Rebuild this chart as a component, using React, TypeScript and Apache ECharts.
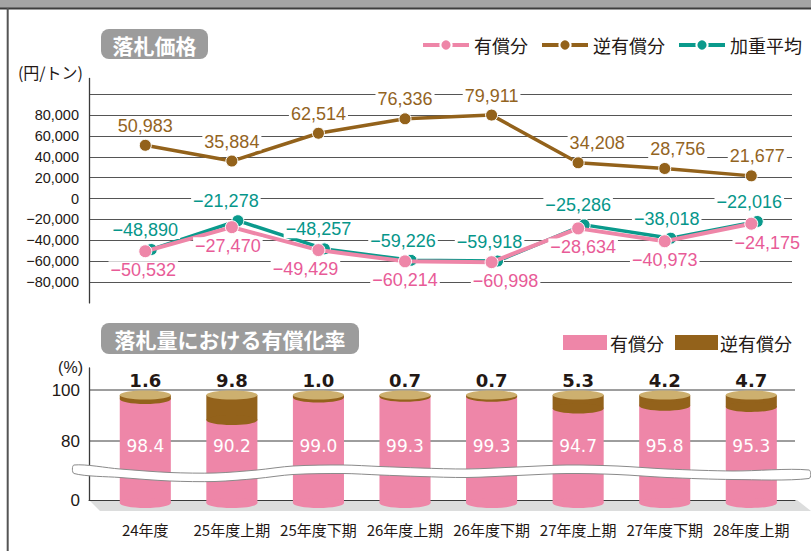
import React, { useEffect, useRef } from 'react';
import * as echarts from 'echarts';

// ---------- data ----------
const categories = ['24年度', '25年度上期', '25年度下期', '26年度上期', '26年度下期', '27年度上期', '27年度下期', '28年度上期'];
const paidPrice = [-50532, -27470, -49429, -60214, -60998, -28634, -40973, -24175]; // 有償分
const reversePrice = [50983, 35884, 62514, 76336, 79911, 34208, 28756, 21677]; // 逆有償分
const weightedAvgPrice = [-48890, -21278, -48257, -59226, -59918, -25286, -38018, -22016]; // 加重平均
const paidRate = [98.4, 90.2, 99.0, 99.3, 99.3, 94.7, 95.8, 95.3]; // 有償分 (%)
const reverseRate = [1.6, 9.8, 1.0, 0.7, 0.7, 5.3, 4.2, 4.7]; // 逆有償分 (%)
const rateTicks = [0, 80, 100];
const rateGridValues = [80, 100];

// ---------- styling ----------
const PINK = '#ee86a8';
const PINK_LABEL = '#e85b97';
const BROWN = '#93621b';
const BROWN_LABEL = '#93641f';
const TEAL = '#0a9a8c';
const TEAL_LABEL = '#06968a';
const TAN = '#cdb06f';
const INK = '#231815';
const CJK = "'Noto Sans CJK JP', 'Noto Sans', sans-serif";
const NUM = "'Liberation Sans', Arial, sans-serif";

// label nudges (pixels, horizontal)
const brownLabelShift = [0, 0, 0, 0, 0, 19, 13, 6];
const pinkLabelShift = [-2, -4, -13, 0, 14, 5, 0, 16];
const tealLabelShift = [-6, -12, -6, -8, -8, -6, -4, -8];

// layout
const X_LEFT = 89;
const X_FIRST = 145.3;
const X_STEP = 86.57;
const X_MIN = -(X_FIRST - X_LEFT) / X_STEP;
const TOP_W = 703;
const BOT_W = 706;
const TEAL_SHIFT = 6 / X_STEP;

const ZERO_Y = 198.5;
const K = 20.875 / 20000;
const P_MIN = -100000;
const P_MAX = 115000;
const TOP_TOP = ZERO_Y - P_MAX * K;
const TOP_H = (P_MAX - P_MIN) * K;

const B_TOP = 368;
const B_BOT = 500;
const R_PX = 51 / 20;
const R_MAX = 100 + (390 - B_TOP) / R_PX;
const R_MIN = 80 - (B_BOT - 441) / R_PX;
const rateToY = (v: number) => B_BOT - (v - R_MIN) * R_PX;

const fmt = (v: number) => (v < 0 ? '−' : '') + Math.abs(v).toLocaleString('en-US');

const renderCylinder = (params: any, api: any) => {
  const i = api.value(0);
  const paid = api.value(1);
  const rev = api.value(2);
  const total = paid + rev;
  const top = api.coord([i, total]);
  const cx = top[0];
  const yTop = top[1];
  const yMid = api.coord([i, paid])[1];
  const yBase = api.coord([i, R_MIN])[1];
  const w = api.size([0.59, 0])[0];
  const rx = w / 2;
  const ry = 5;
  const yIn = api.coord([i, 78])[1];
  return {
    type: 'group',
    children: [
      { type: 'rect', shape: { x: cx - rx, y: yMid + ry, width: w, height: yBase + 3 - (yMid + ry) }, style: { fill: PINK } },
      { type: 'ellipse', shape: { cx, cy: yBase + 3, rx, ry }, style: { fill: PINK } },
      { type: 'rect', shape: { x: cx - rx, y: yTop + ry, width: w, height: yMid - yTop }, style: { fill: BROWN } },
      { type: 'ellipse', shape: { cx, cy: yMid + ry, rx, ry }, style: { fill: BROWN } },
      { type: 'ellipse', shape: { cx, cy: yTop + ry, rx, ry: ry - 0.5 }, style: { fill: TAN } },
      {
        type: 'text', x: cx, y: yTop - 10,
        style: { text: rev.toFixed(1), fill: INK, fontSize: 18, fontWeight: 'bold', fontFamily: "'DejaVu Sans', sans-serif", align: 'center', verticalAlign: 'middle' },
      },
      {
        type: 'text', x: cx, y: yIn,
        style: { text: paid.toFixed(1), fill: '#fff', fontSize: 17, fontFamily: "'DejaVu Sans', sans-serif", align: 'center', verticalAlign: 'middle' },
      },
    ],
  };
};

const wavePts: number[][] = [
  [74, 465], [120, 469], [170, 472.5], [215, 473], [257, 470], [293, 466], [343, 465], [380, 466.5],
  [420, 468], [467, 469], [517, 467], [567, 465], [617, 466], [667, 469], [733, 471], [809, 470],
];

export default function App() {
  const ref = useRef<HTMLDivElement>(null);
  useEffect(() => {
    if (!ref.current) return;
    const chart = echarts.init(ref.current, undefined, { renderer: 'svg' });
    const bandPoly = [
      ...wavePts.map((p) => [p[0], p[1]]),
      ...wavePts.slice().reverse().map((p) => [p[0], p[1] + 8.5]),
    ];
    const lineLabel = (color: string, position: string, distance: number) => ({
      show: true,
      position,
      distance,
      color,
      fontSize: 18,
      fontFamily: NUM,
      backgroundColor: '#fff',
      padding: [0, 2],
      formatter: (p: any) => fmt(p.value[1]),
    });
    const option: any = {
      animation: false,
      textStyle: { fontFamily: CJK },
      legend: {
        left: 421,
        top: 36,
        padding: 0,
        itemWidth: 46,
        itemHeight: 14,
        itemGap: 12,
        selectedMode: false,
        lineStyle: { width: 4 },
        textStyle: { fontSize: 18, color: INK, fontFamily: CJK },
        data: ['有償分', '逆有償分', '加重平均'],
      },
      grid: [
        { left: X_LEFT, top: TOP_TOP, width: TOP_W, height: TOP_H },
        { left: X_LEFT, top: B_TOP, width: BOT_W, height: B_BOT - B_TOP },
      ],
      xAxis: [
        { type: 'value', gridIndex: 0, min: X_MIN, max: X_MIN + TOP_W / X_STEP, show: false },
        { type: 'value', gridIndex: 0, min: X_MIN - TEAL_SHIFT, max: X_MIN - TEAL_SHIFT + TOP_W / X_STEP, show: false },
        {
          type: 'value', gridIndex: 1, min: X_MIN, max: X_MIN + BOT_W / X_STEP,
          axisLine: { show: true, onZero: false, lineStyle: { color: '#3a3a3a', width: 1 } },
          axisTick: { show: false },
          splitLine: { show: false },
          axisLabel: {
            customValues: categories.map((_, i) => i),
            formatter: (v: number) => categories[Math.round(v)] ?? '',
            margin: 22,
            fontSize: 15,
            color: INK,
            fontFamily: CJK,
          },
        },
      ],
      yAxis: [
        {
          type: 'value', gridIndex: 0, min: P_MIN, max: P_MAX, interval: 20000,
          axisLine: { show: true, onZero: false, lineStyle: { color: '#3a3a3a', width: 1.3 } },
          axisTick: { show: false },
          splitLine: { show: true, showMinLine: false, showMaxLine: false, lineStyle: { color: '#555', width: 1 } },
          axisLabel: {
            margin: 10,
            fontSize: 14.5,
            color: INK,
            fontFamily: NUM,
            formatter: (v: number) => (v > 90000 || v < -90000 ? '' : fmt(v)),
          },
        },
        {
          type: 'value', gridIndex: 1, min: R_MIN, max: R_MAX,
          axisLine: { show: true, onZero: false, lineStyle: { color: '#3a3a3a', width: 1.3 } },
          axisTick: { show: false },
          splitLine: { show: false },
          axisLabel: {
            customValues: rateTicks.map((t) => (t === 0 ? R_MIN : t)),
            formatter: (v: number) => (v < R_MIN + 1 ? '0' : String(Math.round(v))),
            margin: 9,
            fontSize: 17,
            color: INK,
            fontFamily: NUM,
          },
        },
      ],
      series: [
        {
          name: '逆有償分', type: 'line', xAxisIndex: 0, yAxisIndex: 0, z: 3,
          data: reversePrice.map((v, i) => ({ value: [i, v], label: { offset: [brownLabelShift[i], 0] } })),
          symbol: 'circle', symbolSize: 12,
          lineStyle: { color: BROWN, width: 3.5 },
          itemStyle: { color: BROWN, borderColor: '#fff', borderWidth: 1 },
          label: lineLabel(BROWN_LABEL, 'top', 4),
        },
        {
          name: '加重平均', type: 'line', xAxisIndex: 1, yAxisIndex: 0, z: 3,
          data: weightedAvgPrice.map((v, i) => ({ value: [i, v], label: { offset: [tealLabelShift[i], 0] } })),
          symbol: 'circle', symbolSize: 12,
          lineStyle: { color: TEAL, width: 3.5 },
          itemStyle: { color: TEAL, borderColor: '#fff', borderWidth: 1 },
          label: lineLabel(TEAL_LABEL, 'top', 4),
        },
        {
          name: '有償分', type: 'line', xAxisIndex: 0, yAxisIndex: 0, z: 4,
          data: paidPrice.map((v, i) => ({ value: [i, v], label: { offset: [pinkLabelShift[i], 0] } })),
          symbol: 'circle', symbolSize: 13,
          lineStyle: { color: PINK, width: 4 },
          itemStyle: { color: PINK, borderColor: '#fff', borderWidth: 1 },
          label: lineLabel(PINK_LABEL, 'bottom', 3),
        },
        {
          name: '有償化率', type: 'custom', xAxisIndex: 2, yAxisIndex: 1, z: 3,
          renderItem: renderCylinder,
          encode: { x: 0, y: 1 },
          data: paidRate.map((p, i) => [i, p, reverseRate[i]]),
        },
      ],
      graphic: [
        { type: 'rect', shape: { x: 0, y: 0, width: 811, height: 8 }, style: { fill: '#a4a4a4' } },
        { type: 'line', shape: { x1: 0, y1: 8.5, x2: 811, y2: 8.5 }, style: { stroke: '#3d3d3d', lineWidth: 2 } },
        { type: 'line', shape: { x1: 7.7, y1: 8, x2: 7.7, y2: 551 }, style: { stroke: '#555', lineWidth: 2 } },
        { type: 'rect', shape: { x: 101, y: 29, width: 107, height: 30, r: 8 }, style: { fill: '#9c9c9c' } },
        { type: 'text', x: 154.5, y: 44.5, style: { text: '落札価格', fill: '#fff', fontSize: 21, fontWeight: 'bold', fontFamily: CJK, align: 'center', verticalAlign: 'middle' } },
        { type: 'rect', shape: { x: 101, y: 323, width: 258, height: 31, r: 8 }, style: { fill: '#9c9c9c' } },
        { type: 'text', x: 230, y: 338.5, style: { text: '落札量における有償化率', fill: '#fff', fontSize: 21, fontWeight: 'bold', fontFamily: CJK, align: 'center', verticalAlign: 'middle' } },
        { type: 'text', x: 83, y: 72, style: { text: '(円/トン)', fill: INK, fontSize: 16, fontFamily: CJK, align: 'right', verticalAlign: 'middle' } },
        { type: 'text', x: 83, y: 367, style: { text: '(%)', fill: INK, fontSize: 16, fontFamily: NUM, align: 'right', verticalAlign: 'middle' } },
        { type: 'rect', shape: { x: 563, y: 335, width: 44, height: 15 }, style: { fill: PINK } },
        { type: 'text', x: 610, y: 343, style: { text: '有償分', fill: INK, fontSize: 18, fontFamily: CJK, align: 'left', verticalAlign: 'middle' } },
        { type: 'rect', shape: { x: 675, y: 335, width: 43, height: 15 }, style: { fill: BROWN } },
        { type: 'text', x: 720, y: 343, style: { text: '逆有償分', fill: INK, fontSize: 18, fontFamily: CJK, align: 'left', verticalAlign: 'middle' } },
        ...rateGridValues.map((v) => ({
          type: 'line', z: -1, shape: { x1: X_LEFT, y1: rateToY(v), x2: X_LEFT + BOT_W, y2: rateToY(v) }, style: { stroke: '#3c3c3c', lineWidth: 1 },
        })),
        { type: 'polygon', z: -1, shape: { points: [[89, 500], [797, 500], [811, 511], [100, 511]] }, style: { fill: '#dcdddd' } },
        { type: 'polygon', z: 100, shape: { points: bandPoly, smooth: 0.3 }, style: { fill: '#fff', stroke: '#8a8a8a', lineWidth: 1 } },
      ],
    };
    chart.setOption(option);
    return () => chart.dispose();
  }, []);
  return <div ref={ref} style={{ position: 'absolute', left: 0, top: 0, width: 811, height: 551, background: '#fff' }} />;
}
